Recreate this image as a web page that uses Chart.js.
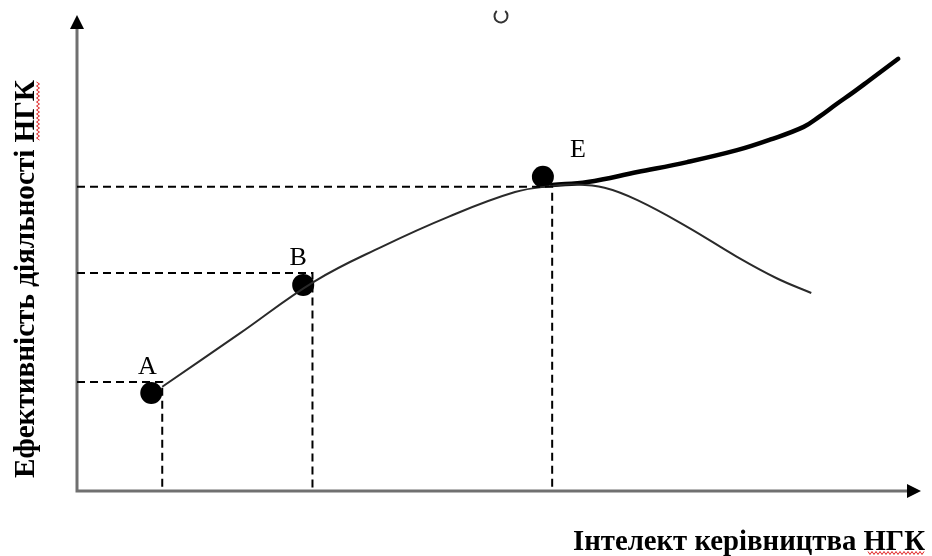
<!DOCTYPE html>
<html>
<head>
<meta charset="utf-8">
<script src="https://cdn.jsdelivr.net/npm/chart.js@4"></script>
<style>
  html, body { margin: 0; padding: 0; background: #fff; }
</style>
</head>
<body>
<canvas id="chart" width="932" height="556"></canvas>
<script>
// Дані (умовні одиниці 0..100 по обох осях)
const curveX = [10.1, 19.2, 28.2, 36.1, 44.0, 51.9, 56.3, 58.7, 62.5, 66.4, 72.3, 78.2, 82.9, 87.0];
const curveY = [21.9, 33.0, 44.1, 51.3, 57.6, 62.8, 64.1, 64.4, 63.7, 61.1, 55.5, 49.2, 44.7, 41.6];

const growthX = [56.3, 60.5, 66.4, 72.3, 78.2, 82.1, 86.1, 88.0, 90.0, 92.0, 93.9, 97.3];
const growthY = [64.3, 64.9, 67.0, 69.1, 71.6, 73.8, 76.5, 78.7, 81.3, 83.8, 86.3, 90.8];

const pointNames = ['A', 'B', 'E'];
const pointX = [8.8, 26.8, 55.2];
const pointY = [20.6, 43.3, 66.0];

// куди йдуть пунктирні проекції на осі
const guideX = [10.1, 27.9, 56.3];
const guideY = [22.9, 45.8, 63.9];

const xTitle = 'Інтелект керівництва НГК';
const yTitle = 'Ефективність діяльності НГК';

const xy = (xs, ys) => xs.map((x, i) => ({ x: x, y: ys[i] }));

const guideSets = guideX.map((gx, i) => ({
  data: [{ x: 0, y: guideY[i] }, { x: gx, y: guideY[i] }, { x: gx, y: 0 }],
  showLine: true,
  borderColor: '#000',
  borderWidth: 2,
  borderDash: [8, 5],
  pointRadius: 0,
  tension: 0
}));

// red spell-check wave
function squiggle(ctx, x0, y0, len, vertical) {
  ctx.save();
  ctx.strokeStyle = '#e02020';
  ctx.lineWidth = 1;
  ctx.beginPath();
  for (let s = 0; s <= len; s += 2) {
    const off = (s / 2) % 2 === 0 ? -1.5 : 1.5;
    if (vertical) {
      s === 0 ? ctx.moveTo(x0 + off, y0 + s) : ctx.lineTo(x0 + off, y0 + s);
    } else {
      s === 0 ? ctx.moveTo(x0 + s, y0 + off) : ctx.lineTo(x0 + s, y0 + off);
    }
  }
  ctx.stroke();
  ctx.restore();
}

const decor = {
  id: 'decor',
  beforeDatasetsDraw(chart) {
    const { ctx, chartArea: a } = chart;
    ctx.save();
    ctx.strokeStyle = '#707070';
    ctx.lineWidth = 3;
    ctx.beginPath();
    ctx.moveTo(a.left, a.bottom);
    ctx.lineTo(a.left, a.top + 10);
    ctx.moveTo(a.left - 1.5, a.bottom);
    ctx.lineTo(a.right - 10, a.bottom);
    ctx.stroke();
    ctx.fillStyle = '#000';
    ctx.beginPath();
    ctx.moveTo(a.left, a.top);
    ctx.lineTo(a.left - 7, a.top + 14);
    ctx.lineTo(a.left + 7, a.top + 14);
    ctx.closePath();
    ctx.fill();
    ctx.beginPath();
    ctx.moveTo(a.right, a.bottom);
    ctx.lineTo(a.right - 14, a.bottom - 7);
    ctx.lineTo(a.right - 14, a.bottom + 7);
    ctx.closePath();
    ctx.fill();
    ctx.restore();
  },
  afterDatasetsDraw(chart) {
    const { ctx } = chart;
    const xs = chart.scales.x, ys = chart.scales.y;
    const labelOffset = [[-4, -26], [-5, -27], [35, -27]];
    ctx.save();
    ctx.fillStyle = '#000';
    ctx.font = '26px "Liberation Serif", serif';
    ctx.textAlign = 'center';
    ctx.textBaseline = 'middle';
    pointNames.forEach((n, i) => {
      const px = xs.getPixelForValue(pointX[i]) + labelOffset[i][0];
      const py = ys.getPixelForValue(pointY[i]) + labelOffset[i][1];
      ctx.fillText(n, px, py);
    });

    // axis titles, stretched like the original
    ctx.font = 'bold 30px "Liberation Serif", serif';
    ctx.textAlign = 'left';
    ctx.textBaseline = 'alphabetic';
    let w = ctx.measureText(xTitle).width;
    ctx.save();
    ctx.translate(573, 550);
    ctx.scale(352 / w, 1);
    ctx.fillText(xTitle, 0, 0);
    ctx.restore();

    w = ctx.measureText(yTitle).width;
    ctx.save();
    ctx.translate(34, 478);
    ctx.rotate(-Math.PI / 2);
    ctx.scale(398 / w, 1);
    ctx.fillText(yTitle, 0, 0);
    ctx.restore();

    squiggle(ctx, 868, 553, 56, false);
    squiggle(ctx, 38, 82, 58, true);

    // stray mark at the top
    ctx.strokeStyle = '#333';
    ctx.lineWidth = 2;
    ctx.beginPath();
    ctx.arc(501, 16, 6.5, -Math.PI / 2 + 0.7, Math.PI * 1.5 - 0.7);
    ctx.stroke();
    ctx.restore();
  }
};

new Chart(document.getElementById('chart'), {
  type: 'scatter',
  data: {
    datasets: [
      ...guideSets,
      {
        data: xy(curveX, curveY),
        showLine: true,
        borderColor: '#2a2a2a',
        borderWidth: 2,
        pointRadius: 0,
        tension: 0.4
      },
      {
        data: xy(growthX, growthY),
        showLine: true,
        borderColor: '#000',
        borderWidth: 4.5,
        pointRadius: 0,
        borderCapStyle: 'round',
        tension: 0.4
      },
      {
        data: xy(pointX, pointY),
        showLine: false,
        pointRadius: 11,
        pointBackgroundColor: '#000',
        pointBorderWidth: 0
      }
    ]
  },
  options: {
    responsive: false,
    animation: false,
    clip: false,
    layout: { padding: { left: 77, top: 15, right: 7, bottom: 65 } },
    plugins: { legend: { display: false }, tooltip: { enabled: false } },
    scales: {
      x: { type: 'linear', min: 0, max: 100, display: false },
      y: { type: 'linear', min: 0, max: 100, display: false }
    }
  },
  plugins: [decor]
});
</script>
</body>
</html>
